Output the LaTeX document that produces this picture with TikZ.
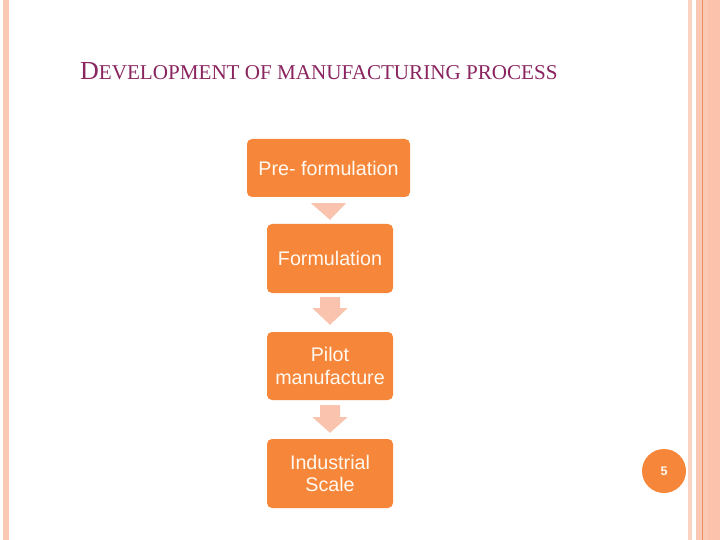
\documentclass[tikz,border=0pt]{standalone}
\usepackage{fontspec}
\setmainfont{Liberation Sans}
\newfontfamily\titlefont{Liberation Serif}
\usetikzlibrary{calc}
\definecolor{boxorange}{HTML}{F6873A}
\definecolor{arrowpink}{HTML}{F9C3AD}
\definecolor{stripA}{HTML}{FAD3C3}
\definecolor{stripB}{HTML}{FBC8B4}
\definecolor{stripC}{HTML}{FCC2AC}
\definecolor{stripLine}{HTML}{E98F62}
\definecolor{titlecol}{HTML}{8A2560}
\definecolor{boxtext}{HTML}{FFF9F2}
\tikzset{
  stepbox/.style={draw=none, fill=boxorange, rounded corners=5pt, text=boxtext,
    font=\fontsize{19.7}{22.5}\selectfont, align=center, inner sep=0pt},
  blockarr/.style={fill=arrowpink, draw=none},
}
\begin{document}
\begin{tikzpicture}[x=1pt,y=-1pt]
\useasboundingbox (0,0) rectangle (720,540);
\fill[white] (0,0) rectangle (720,540);
% side strips
\fill[stripB] (3,0) rectangle (9,540);
\fill[stripA] (688,0) rectangle (692,540);
\fill[stripB] (696,0) rectangle (720,540);
\fill[stripC] (708,0) rectangle (720,540);
\fill[stripLine] (702,0) rectangle (703.2,540);
% title
\node[anchor=base west, inner sep=0pt, text=titlecol, font=\titlefont] (title) at (80,80)
  {{\fontsize{26}{30}\selectfont D}{\fontsize{21.1}{24}\selectfont EVELOPMENT OF MANUFACTURING PROCESS}};
% boxes
\node[stepbox, minimum width=163pt, minimum height=58pt] (b1) at (328.5,168) {Pre- formulation};
\node[stepbox, minimum width=126pt, minimum height=69pt] (b2) at (330,258.5) {Formulation};
\node[stepbox, minimum width=126pt, minimum height=68pt] (b3) at (330,366) {Pilot\\manufacture};
\node[stepbox, minimum width=126pt, minimum height=69pt] (b4) at (330,473.5) {Industrial\\Scale};
% arrows
\fill[blockarr] ($(b1.south)+(-17.5,6)$) -- ($(b1.south)+(17.5,6)$) -- ($(b2.north)+(0,-4)$) -- cycle;
\fill[blockarr] ($(b2.south)+(-10,4)$) -- ($(b2.south)+(10,4)$) -- ($(b2.south)+(10,15)$)
  -- ($(b2.south)+(17.5,15)$) -- ($(b3.north)+(0,-7)$) -- ($(b2.south)+(-17.5,15)$)
  -- ($(b2.south)+(-10,15)$) -- cycle;
\fill[blockarr] ($(b3.south)+(-10,5)$) -- ($(b3.south)+(10,5)$) -- ($(b3.south)+(10,17)$)
  -- ($(b3.south)+(17.5,17)$) -- ($(b4.north)+(0,-6)$) -- ($(b3.south)+(-17.5,17)$)
  -- ($(b3.south)+(-10,17)$) -- cycle;
% page number
\node[circle, fill=boxorange, minimum size=44pt, inner sep=0pt, text=boxtext,
  font=\bfseries\fontsize{12.5}{14}\selectfont] (pg) at (664,471) {5};
\end{tikzpicture}
\end{document}
